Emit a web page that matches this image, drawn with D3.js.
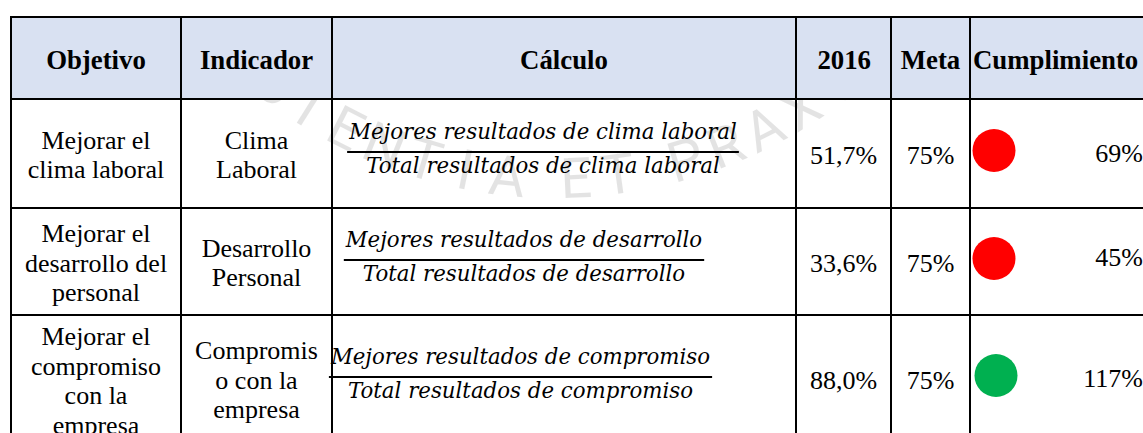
<!DOCTYPE html>
<html><head><meta charset="utf-8">
<script src="https://cdn.jsdelivr.net/npm/d3@7"></script>
<style>body{margin:0;background:#fff;overflow:hidden} svg{display:block}</style>
</head><body><svg id="c" width="1143" height="433"></svg>
<script>
// ---- data ----
const headers = ["Objetivo","Indicador","Cálculo","2016","Meta","Cumplimiento"];
const objetivos = [["Mejorar el","clima laboral"],["Mejorar el","desarrollo del","personal"],["Mejorar el","compromiso","con la","empresa"]];
const indicadores = [["Clima","Laboral"],["Desarrollo","Personal"],["Compromis","o con la","empresa"]];
const numeradores = ["Mejores resultados de clima laboral","Mejores resultados de desarrollo","Mejores resultados de compromiso"];
const denominadores = ["Total resultados de clima laboral","Total resultados de desarrollo","Total resultados de  compromiso"];
const valores2016 = [51.7, 33.6, 88.0];
const metas = [75, 75, 75];
const cumplimiento = [69, 45, 117];
const watermark = "SCIENTIA ET PRAXIS";

// ---- layout ----
const colEdges = [11, 181, 332, 796, 891, 970, 1200];
const rowEdges = [17, 99, 208, 315, 444];
const fracCenter = [543, 524, 520.5];

const svg = d3.select("#c");
const loc = d3.formatLocale({decimal: ",", thousands: ".", grouping: [3], currency: ["", ""]});
const f1 = loc.format(".1f"), f0 = loc.format(".0f");

const xLeft = d3.scaleOrdinal().domain(headers).range(colEdges.slice(0, 6));
const xRight = d3.scaleOrdinal().domain(headers).range(colEdges.slice(1));
const xMid = h => (xLeft(h) + xRight(h)) / 2;
const rowIdx = d3.range(valores2016.length);
const yTop = d3.scaleOrdinal().domain(rowIdx).range(rowEdges.slice(1, 4));
const yBot = d3.scaleOrdinal().domain(rowIdx).range(rowEdges.slice(2));
const yMid = i => (yTop(i) + yBot(i)) / 2;
const status = d3.scaleThreshold().domain([100]).range(["#FF0000", "#00B050"]);

const serif = "'Liberation Serif','Times New Roman',serif";

// watermark along an arc (behind the table)
const wmC = {x: 555, y: -282}, wmR = 480;
let s = 0; const wpos = [];
for (const ch of watermark) { const adv = ch === " " ? 28 : 44; wpos.push(s + adv / 2); s += adv; }
const wmid = s / 2;
svg.append("g").attr("pointer-events", "none").selectAll("text")
  .data(watermark.split("").map((ch, k) => ({ch, a: (wpos[k] - wmid) / wmR})))
  .join("text")
  .attr("transform", d => `translate(${wmC.x + wmR * Math.sin(d.a)},${wmC.y + wmR * Math.cos(d.a)}) rotate(${-d.a * 180 / Math.PI})`)
  .attr("text-anchor", "middle")
  .attr("font-family", "Roboto,'Liberation Sans',sans-serif").attr("font-weight", 400)
  .attr("font-size", 56).attr("fill", "#000").attr("fill-opacity", 0.11)
  .text(d => d.ch);

// header fill
svg.append("rect").attr("x", colEdges[0]).attr("y", rowEdges[0])
  .attr("width", colEdges[6] - colEdges[0]).attr("height", rowEdges[1] - rowEdges[0])
  .attr("fill", "#D9E1F2");

// header text
const hAnchor = {"2016": "end", "Cumplimiento": "start"};
svg.append("g").selectAll("text").data(headers).join("text")
  .attr("x", h => hAnchor[h] === "end" ? xRight(h) - 20 : hAnchor[h] === "start" ? xLeft(h) + 3 : xMid(h))
  .attr("y", 68.5)
  .attr("text-anchor", h => hAnchor[h] || "middle")
  .attr("font-family", serif).attr("font-weight", "bold").attr("font-size", 26.8)
  .attr("fill", "#000").text(h => h);

// multi-line text cells
const LH = 29.5;
function multiline(g, lines, cx, cy) {
  const n = lines.length;
  g.selectAll(null).data(lines).join("text")
    .attr("x", cx).attr("y", (d, k) => cy + (k - (n - 1) / 2) * LH + 10)
    .attr("text-anchor", "middle").attr("font-family", serif).attr("font-size", 26)
    .attr("fill", "#000").text(d => d);
}
const body = svg.append("g");
rowIdx.forEach(i => {
  multiline(body.append("g"), objetivos[i], xMid("Objetivo"), yMid(i));
  multiline(body.append("g"), indicadores[i], xMid("Indicador"), yMid(i) - (i === 2 ? 1 : 0));
});

// values
const vy = i => Math.min(yMid(i), 378.5);
body.append("g").selectAll("text").data(valores2016).join("text")
  .attr("x", xMid("2016")).attr("y", (d, i) => vy(i) + 10)
  .attr("text-anchor", "middle").attr("font-family", serif).attr("font-size", 26)
  .text(d => f1(d) + "%");
body.append("g").selectAll("text").data(metas).join("text")
  .attr("x", xMid("Meta")).attr("y", (d, i) => vy(i) + 10)
  .attr("text-anchor", "middle").attr("font-family", serif).attr("font-size", 26)
  .text(d => f0(d) + "%");
body.append("g").selectAll("circle").data(cumplimiento).join("circle")
  .attr("cx", (d, i) => xLeft("Cumplimiento") + 24 + (i === 2 ? 2 : 0)).attr("cy", (d, i) => vy(i) - 3)
  .attr("r", 21.5).attr("fill", d => status(d));
body.append("g").selectAll("text").data(cumplimiento).join("text")
  .attr("x", 1143).attr("y", (d, i) => vy(i) + (i === 1 ? 4 : 8))
  .attr("text-anchor", "end").attr("font-family", serif).attr("font-size", 26)
  .text(d => f0(d) + "%");

// fractions
const mathFont = "'DejaVu Serif',serif";
const fg = body.append("g");
const nums = [], dens = [];
rowIdx.forEach(i => {
  const g = fg.append("g");
  const ly = vy(i) - 1.5;
  const n = g.append("text").attr("y", ly - 12.5).attr("text-anchor", "middle")
    .attr("font-family", mathFont).attr("font-style", "italic").attr("font-size", 22).text(numeradores[i]);
  const d = g.append("text").attr("y", ly + 21).attr("text-anchor", "middle")
    .attr("font-family", mathFont).attr("font-style", "italic").attr("font-size", 22).text(denominadores[i]);
  nums.push(n); dens.push(d);
});
const sx = 388 / nums[0].node().getComputedTextLength();
rowIdx.forEach(i => {
  const cx = fracCenter[i];
  const ly = vy(i) - 1.5;
  [nums[i], dens[i]].forEach(t => t.attr("transform", `translate(${cx},0) scale(${sx},1)`));
  const w = Math.max(nums[i].node().getComputedTextLength(), dens[i].node().getComputedTextLength()) * sx + 4;
  fg.append("line").attr("x1", cx - w / 2).attr("x2", cx + w / 2).attr("y1", ly).attr("y2", ly)
    .attr("stroke", "#000").attr("stroke-width", 2);
});

// borders
const bg = svg.append("g").attr("stroke", "#000").attr("stroke-width", 2);
bg.selectAll(".h").data(rowEdges).join("line")
  .attr("x1", colEdges[0] - 1).attr("x2", colEdges[6]).attr("y1", d => d).attr("y2", d => d);
bg.selectAll(".v").data(colEdges.slice(0, 6)).join("line")
  .attr("x1", d => d).attr("x2", d => d).attr("y1", rowEdges[0]).attr("y2", rowEdges[4]);
</script></body></html>
